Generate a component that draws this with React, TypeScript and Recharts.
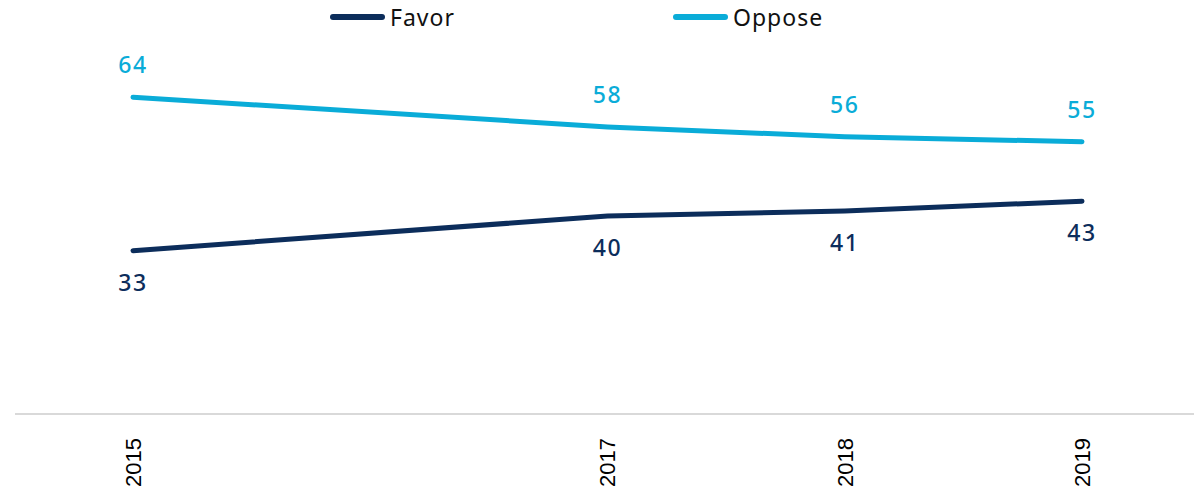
import { LineChart, Line, XAxis, YAxis, Legend, LabelList } from "recharts";

const years = [2015, 2017, 2018, 2019];
const favor = [33, 40, 41, 43];
const oppose = [64, 58, 56, 55];

const FAVOR_COLOR = "#0c2d5b";
const OPPOSE_COLOR = "#0aacd8";
const LABEL_FONT = "'Noto Sans', sans-serif";

const data = years.map((year, i) => ({
  year,
  favor: favor[i],
  oppose: oppose[i],
}));

function YearTick(props: any) {
  const { x, y, payload } = props;
  const ty = y + 16;
  return (
    <text
      x={x}
      y={ty}
      dy="0.36em"
      transform={`rotate(-90, ${x}, ${ty})`}
      textAnchor="end"
      fill="#000"
      fontSize={22}
      fontFamily="'Liberation Sans', Arial, sans-serif"
    >
      {payload.value}
    </text>
  );
}

// legend takes no height so the plot area isn't pushed down
function LegendContent() {
  const items = [
    { name: "Favor", color: FAVOR_COLOR, left: 330 },
    { name: "Oppose", color: OPPOSE_COLOR, left: 673 },
  ];
  return (
    <div style={{ position: "relative", height: 0, width: 1194 }}>
      {items.map((it) => (
        <div
          key={it.name}
          style={{
            position: "absolute",
            left: it.left,
            top: 2,
            display: "flex",
            alignItems: "center",
            fontFamily: LABEL_FONT,
            fontSize: 23,
            letterSpacing: 1,
            color: "#111",
            lineHeight: "30px",
          }}
        >
          <span
            style={{
              display: "inline-block",
              width: 55,
              height: 6,
              borderRadius: 3,
              background: it.color,
              marginRight: 5,
            }}
          />
          {it.name}
        </div>
      ))}
    </div>
  );
}

export default function App() {
  return (
    <div style={{ position: "absolute", left: 0, top: 0, background: "#fff" }}>
      <LineChart
        width={1194}
        height={489}
        data={data}
        margin={{ top: 18, right: 0, left: 15, bottom: 0 }}
      >
        <XAxis
          dataKey="year"
          type="number"
          domain={["dataMin", "dataMax"]}
          ticks={years}
          padding={{ left: 118, right: 112 }}
          height={75}
          axisLine={{ stroke: "#d9d9d9", strokeWidth: 2 }}
          tickLine={false}
          tick={<YearTick />}
          interval={0}
        />
        <YAxis hide domain={[0, 80]} />
        <Legend
          verticalAlign="top"
          align="left"
          content={<LegendContent />}
          wrapperStyle={{ top: 0, left: 0, height: 0 }}
        />
        <Line
          dataKey="oppose"
          name="Oppose"
          stroke={OPPOSE_COLOR}
          strokeWidth={5}
          strokeLinecap="round"
          dot={false}
          isAnimationActive={false}
        >
          <LabelList
            dataKey="oppose"
            position="top"
            offset={24}
            fill={OPPOSE_COLOR}
            fontSize={23}
            letterSpacing={1.5}
            fontFamily={LABEL_FONT}
            fontWeight={500}
          />
        </Line>
        <Line
          dataKey="favor"
          name="Favor"
          stroke={FAVOR_COLOR}
          strokeWidth={5}
          strokeLinecap="round"
          dot={false}
          isAnimationActive={false}
        >
          <LabelList
            dataKey="favor"
            position="bottom"
            offset={24}
            fill={FAVOR_COLOR}
            fontSize={23}
            letterSpacing={1.5}
            fontFamily={LABEL_FONT}
            fontWeight={500}
          />
        </Line>
      </LineChart>
    </div>
  );
}
